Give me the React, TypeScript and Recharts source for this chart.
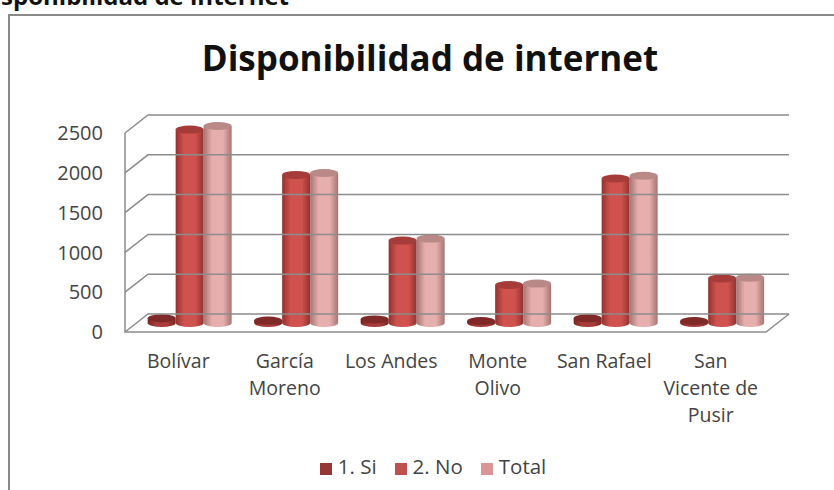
import React from 'react';
import { BarChart, Bar, XAxis, YAxis, Legend, ReferenceLine } from 'recharts';

const categories = ['Bolívar', 'García Moreno', 'Los Andes', 'Monte Olivo', 'San Rafael', 'San Vicente de Pusir'];
const siValues = [60, 30, 45, 25, 60, 25];
const noValues = [2430, 1860, 1035, 477, 1815, 560];
const totalValues = [2475, 1885, 1060, 495, 1850, 570];
const yTicks = [0, 500, 1000, 1500, 2000, 2500];

const chartData = categories.map((name, i) => ({
  name,
  si: siValues[i],
  no: noValues[i],
  total: totalValues[i],
}));

const FONT = '"Open Sans", "Noto Sans", sans-serif';
const DEPTH_X = 23;
const DEPTH_Y = 18;

// same wrapping as the original axis, at most 10 chars a line
const wrapLabel = (text: string) => {
  const lines: string[] = [];
  text.split(' ').forEach((word) => {
    const last = lines[lines.length - 1];
    if (last && (last + ' ' + word).length <= 10) lines[lines.length - 1] = last + ' ' + word;
    else lines.push(word);
  });
  return lines;
};

const CategoryTick = (props: any) => {
  const { x, y, payload } = props;
  return (
    <text x={x} textAnchor="middle" fill="#444" fontSize={19.5} fontFamily={FONT}>
      {wrapLabel(payload.value).map((line, i) => (
        <tspan key={i} x={x} y={y + 28 + i * 27}>
          {line}
        </tspan>
      ))}
    </text>
  );
};

// bars stand in the middle of the floor depth
const Cylinder = (props: any) => {
  const { x, y, width, height, index, dataKey, colors } = props;
  const cx = x + 12;
  const top = y - 9;
  const bottom = y + height - 9;
  const rx = width / 2;
  const ry = 4;
  const gradId = `cyl-${dataKey}-${index}`;
  return (
    <g>
      <defs>
        <linearGradient id={gradId} x1="0" x2="1" y1="0" y2="0">
          <stop offset="0%" stopColor={colors[0]} />
          <stop offset="30%" stopColor={colors[1]} />
          <stop offset="70%" stopColor={colors[1]} />
          <stop offset="100%" stopColor={colors[0]} />
        </linearGradient>
      </defs>
      <path
        d={`M${cx},${top} L${cx},${bottom} A${rx},${ry} 0 0 0 ${cx + width},${bottom} L${cx + width},${top} Z`}
        fill={`url(#${gradId})`}
      />
      <ellipse cx={cx + rx} cy={top} rx={rx} ry={ry} fill={colors[2]} />
    </g>
  );
};

const BackWallLine = (props: any) => {
  const { x1, x2, y1 } = props;
  return (
    <polyline
      points={`${x1},${y1} ${x1 + DEPTH_X},${y1 - DEPTH_Y} ${x2 + 2 + DEPTH_X},${y1 - DEPTH_Y}`}
      fill="none"
      stroke="#8c8c8c"
      strokeWidth={1.5}
    />
  );
};

const FloorLine = (props: any) => {
  const { x1, x2, y1 } = props;
  return (
    <path
      d={`M${x1},${y1 - 199} L${x1},${y1} L${x2 + 2},${y1} L${x2 + 2 + DEPTH_X},${y1 - DEPTH_Y}`}
      fill="none"
      stroke="#8c8c8c"
      strokeWidth={1.5}
    />
  );
};

export default function App() {
  return (
    <div style={{ position: 'absolute', left: 0, top: 0, width: 834, height: 490, overflow: 'hidden', background: '#fff' }}>
      <div
        style={{
          position: 'absolute',
          left: -24,
          top: -21,
          fontFamily: '"Open Sans", sans-serif',
          fontWeight: 700,
          fontSize: 24,
          color: '#111',
          whiteSpace: 'nowrap',
        }}
      >
        Disponibilidad de internet
      </div>
      <div
        style={{
          position: 'absolute',
          left: 8,
          top: 14,
          width: 840,
          height: 480,
          border: '2px solid #8a8a8a',
          boxSizing: 'border-box',
        }}
      />
      <div
        style={{
          position: 'absolute',
          left: 0,
          top: 34,
          width: 860,
          textAlign: 'center',
          fontFamily: FONT,
          fontWeight: 700,
          fontSize: 35,
          color: '#111',
        }}
      >
        Disponibilidad de internet
      </div>
      <div style={{ position: 'absolute', left: 0, top: 0 }}>
        <BarChart
          width={834}
          height={490}
          data={chartData}
          margin={{ top: 133, right: 70, bottom: 0, left: 0 }}
          barCategoryGap="10%"
          barGap={0}
        >
          <XAxis
            dataKey="name"
            height={130}
            interval={0}
            axisLine={false}
            tickLine={false}
            tick={<CategoryTick />}
          />
          <YAxis
            width={125}
            domain={[0, 2500]}
            ticks={yTicks}
            axisLine={false}
            tickLine={false}
            tick={{ fill: '#444', fontSize: 20, fontFamily: FONT }}
            tickMargin={16}
          />
          {yTicks.map((t) => (
            <ReferenceLine key={t} y={t} shape={<BackWallLine />} />
          ))}
          <ReferenceLine y={0} shape={<FloorLine />} />
          <Bar dataKey="si" name="1. Si" fill="#953735" isAnimationActive={false} shape={<Cylinder colors={['#7a2422', '#a83c3a', '#7f2a28']} />} />
          <Bar dataKey="no" name="2. No" fill="#c0504d" isAnimationActive={false} shape={<Cylinder colors={['#93322f', '#d0524e', '#a53c39']} />} />
          <Bar dataKey="total" name="Total" fill="#d99694" isAnimationActive={false} shape={<Cylinder colors={['#a57573', '#e6aeac', '#b98987']} />} />
          <Legend
            verticalAlign="bottom"
            iconType="square"
            iconSize={12}
            wrapperStyle={{ fontFamily: FONT, fontSize: 20.5, bottom: 10, left: 0, width: 884 }}
            formatter={(v) => <span style={{ color: '#444', marginLeft: 2, marginRight: 8 }}>{v}</span>}
          />
        </BarChart>
      </div>
    </div>
  );
}
